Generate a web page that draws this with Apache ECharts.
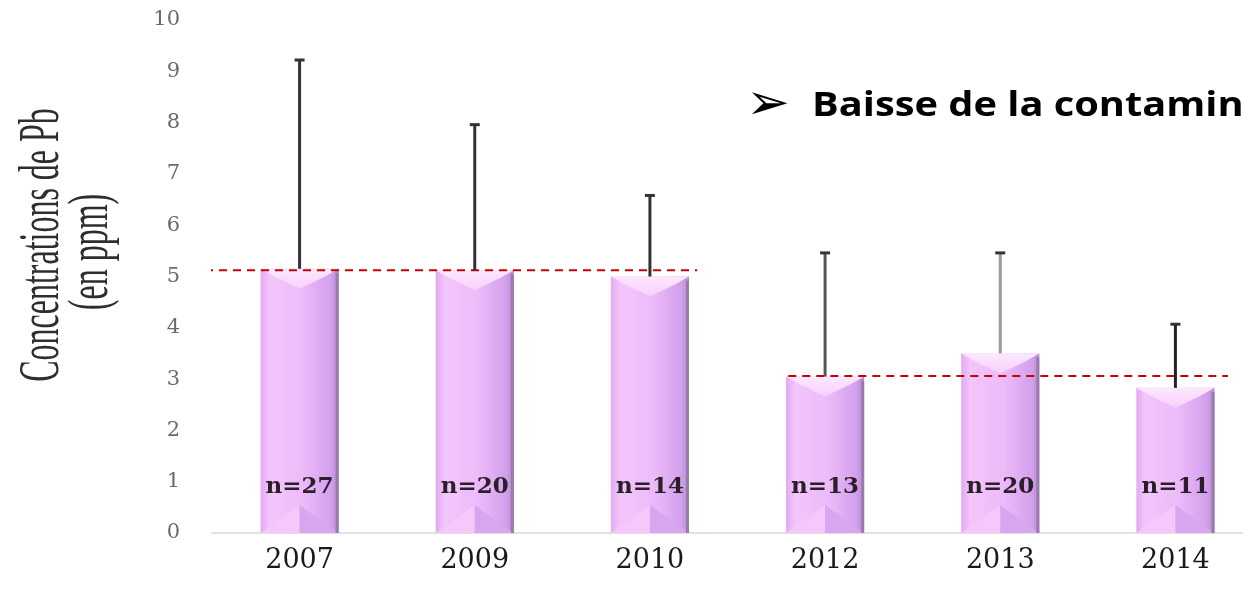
<!DOCTYPE html>
<html>
<head>
<meta charset="utf-8">
<script src="https://cdn.jsdelivr.net/npm/echarts@6/dist/echarts.min.js"></script>
<style>
html,body{margin:0;padding:0;background:#fff;}
#chart{width:1243px;height:589px;}
</style>
</head>
<body>
<div id="chart"></div>
<script>
// ---- data ----
const years = ['2007', '2009', '2010', '2012', '2013', '2014'];
const meanPb = [5.15, 5.12, 5.0, 3.05, 3.5, 2.83];
const upperPb = [9.22, 7.96, 6.58, 5.46, 5.46, 4.07];
const sampleLabels = ['n=27', 'n=20', 'n=14', 'n=13', 'n=20', 'n=11'];
const refLineA = [[-0.54, 5.12], [2.27, 5.12]];
const refLineB = [[2.79, 3.06], [5.30, 3.06]];
const yAxisTitle = ['Concentrations de Pb', '(en ppm)'];
const noteArrow = '\u27A2';
const noteText = 'Baisse de la contamination';

// ---- styles ----
const errColors = ['#333', '#333', '#333', '#555', '#9a9a9a', '#222'];

const chart = echarts.init(document.getElementById('chart'));

function renderBar(params, api) {
  const i = api.value(0), v = api.value(1);
  const top = api.coord([i, v]);
  const base = api.coord([i, 0]);
  const w = api.size([1, 0])[0] * 0.446;
  const x0 = top[0] - w / 2, y0 = top[1], yb = base[1], h = yb - y0;
  const lab = api.coord([i, 0.9]);
  return {
    type: 'group',
    children: [
      { type: 'rect', shape: { x: x0, y: y0, width: w, height: h },
        style: { fill: new echarts.graphic.LinearGradient(0, 0, 1, 0, [
          { offset: 0, color: '#e2a9f0' }, { offset: 0.12, color: '#f3c5fc' },
          { offset: 0.55, color: '#ecbaf9' }, { offset: 0.9, color: '#d3a0ec' },
          { offset: 1, color: '#b58ccb' }]) } },
      { type: 'polygon', shape: { points: [[x0, y0], [x0 + w, y0], [x0 + w * 0.82, y0 + 8], [x0 + w / 2, y0 + 20], [x0 + w * 0.18, y0 + 8]] },
        style: { fill: new echarts.graphic.LinearGradient(0, 0, 0, 1, [
          { offset: 0, color: '#fde8fe' }, { offset: 1, color: '#f6d0fc' }]) } },
      { type: 'polygon', shape: { points: [[x0, yb], [x0 + w / 2, yb - 28], [x0 + w / 2, yb]] },
        style: { fill: '#f4c8fb' } },
      { type: 'polygon', shape: { points: [[x0 + w / 2, yb - 28], [x0 + w, yb], [x0 + w / 2, yb]] },
        style: { fill: '#d8a6ef' } },
      { type: 'rect', shape: { x: x0 + w - 3, y: y0 + 4, width: 3, height: h - 4 },
        style: { fill: '#9a7aae' } },
      { type: 'text', x: lab[0], y: lab[1],
        style: { text: sampleLabels[params.dataIndex], align: 'center', verticalAlign: 'middle',
          font: 'bold 23px "DejaVu Serif", serif', fill: '#2a1e2a' } }
    ]
  };
}

function renderErr(params, api) {
  const i = api.value(0);
  const p0 = api.coord([i, api.value(1)]);
  const p1 = api.coord([i, api.value(2)]);
  const c = errColors[params.dataIndex];
  return {
    type: 'group',
    children: [
      { type: 'line', shape: { x1: p0[0], y1: p0[1], x2: p1[0], y2: p1[1] },
        style: { stroke: c, lineWidth: 3 } },
      { type: 'line', shape: { x1: p1[0] - 5, y1: p1[1], x2: p1[0] + 5, y2: p1[1] },
        style: { stroke: '#333', lineWidth: 3 } }
    ]
  };
}

const option = {
  animation: false,
  backgroundColor: '#fff',
  grid: { left: 212, width: 1051, top: 20, bottom: 56, outerBoundsMode: 'none', containLabel: false },
  xAxis: [
    { type: 'category', data: years,
      axisLine: { lineStyle: { color: '#e2e2e2', width: 2 } },
      axisTick: { show: false },
      axisLabel: { color: '#1a1a1a', fontSize: 27, fontFamily: '"DejaVu Serif", serif', margin: 14 } },
    { type: 'value', min: -0.5, max: 5.5, show: false }
  ],
  yAxis: {
    type: 'value', min: 0, max: 10, interval: 1,
    axisLine: { show: false }, axisTick: { show: false }, splitLine: { show: false },
    axisLabel: { color: '#6a6a6a', fontSize: 21, fontFamily: '"DejaVu Serif", serif', margin: 32 }
  },
  series: [
    { type: 'custom', name: 'Pb', xAxisIndex: 0, renderItem: renderBar,
      data: years.map((y, i) => [i, meanPb[i]]), z: 2 },
    { type: 'line', xAxisIndex: 1, data: refLineA, symbol: 'none', clip: false, z: 3,
      lineStyle: { color: '#c40000', width: 2, type: [8, 6] } },
    { type: 'line', xAxisIndex: 1, data: refLineB, symbol: 'none', clip: false, z: 3,
      lineStyle: { color: '#c40000', width: 2, type: [8, 6] } },
    { type: 'custom', name: 'err', xAxisIndex: 0, renderItem: renderErr,
      data: years.map((y, i) => [i, meanPb[i], upperPb[i]]), z: 4 }
  ],
  graphic: [
    { type: 'text', x: 43, y: 245, rotation: Math.PI / 2, scaleY: 1.75,
      style: { text: yAxisTitle[0], align: 'center', verticalAlign: 'middle',
        font: '32px "Liberation Serif", serif', fill: '#2e2e2e' } },
    { type: 'text', x: 92, y: 252, rotation: Math.PI / 2, scaleY: 1.75,
      style: { text: yAxisTitle[1], align: 'center', verticalAlign: 'middle',
        font: '32px "Liberation Serif", serif', fill: '#2e2e2e' } },
    { type: 'text', x: 746, y: 106, scaleX: 1.05,
      style: { text: noteArrow, align: 'left', verticalAlign: 'middle',
        font: '50px "DejaVu Sans", sans-serif', fill: '#000' } },
    { type: 'text', x: 812, y: 106, scaleX: 1.17,
      style: { text: noteText, align: 'left', verticalAlign: 'middle',
        font: 'bold 34px "Open Sans", "DejaVu Sans", sans-serif', fill: '#000' } }
  ]
};
chart.setOption(option);
</script>
</body>
</html>
